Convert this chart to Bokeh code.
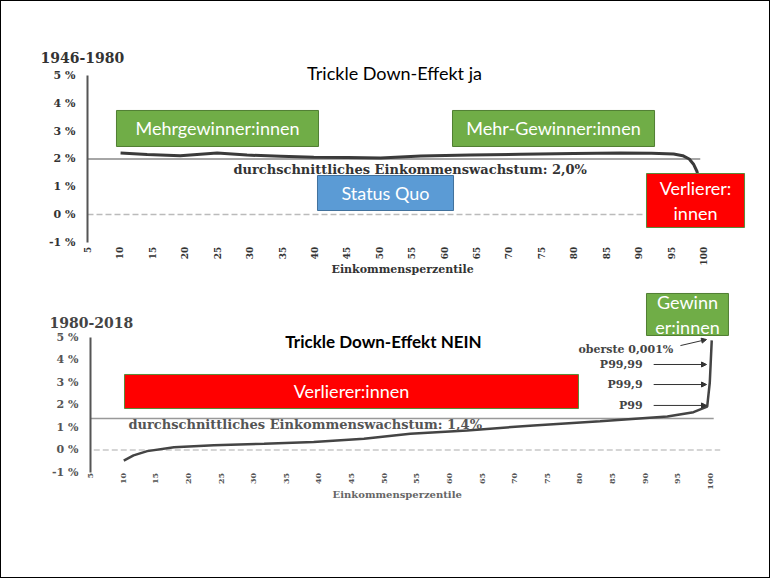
from math import pi
from bokeh.plotting import figure
from bokeh.models import Range1d, FixedTicker, Label, Arrow, NormalHead
from bokeh.layouts import column
from bokeh.embed import file_html
from bokeh.resources import INLINE

# ---------------- data ----------------
pct_ticks = [5, 10, 15, 20, 25, 30, 35, 40, 45, 50, 55, 60, 65, 70, 75, 80, 85, 90, 95, 100]
y_ticks = [-1, 0, 1, 2, 3, 4, 5]
y_tick_labels = ["-1 %", "0 %", "1 %", "2 %", "3 %", "4 %", "5 %"]

# 1946-1980 growth by income percentile
top_pct = [10.1, 14.2, 19.3, 25.0, 29.6, 34.8, 39.9, 45.1, 50.2, 56.4, 64.0, 71.8,
           80.0, 87.2, 92.0, 95.4, 96.8, 97.8, 98.5, 99.0, 99.3, 99.5]
top_growth = [2.22, 2.16, 2.12, 2.22, 2.14, 2.10, 2.06, 2.05, 2.04, 2.11, 2.14, 2.17,
              2.20, 2.22, 2.21, 2.18, 2.12, 2.00, 1.80, 1.55, 1.20, 0.90]
top_avg = 2.0

# 1980-2018 growth by income percentile
bot_pct = [10.1, 11.6, 13.7, 17.8, 23.9, 31.6, 39.2, 46.9, 54.0, 62.7, 72.9, 83.1,
           93.4, 97.4, 99.5, 99.9, 100.2]
bot_growth = [-0.47, -0.24, -0.05, 0.12, 0.21, 0.28, 0.36, 0.50, 0.72, 0.87, 1.09, 1.28,
              1.49, 1.68, 1.93, 3.00, 4.87]
bot_avg = 1.4

SERIF = "DejaVu Serif"
SANS = "Lato"


def make_fig(h, xr, yr, x_axis_at, label_color, xfont):
    p = figure(width=768, height=h, x_range=Range1d(*xr), y_range=Range1d(*yr),
               output_backend="svg", toolbar_location=None,
               min_border_left=0, min_border_right=0, min_border_top=0,
               min_border_bottom=0)
    p.grid.visible = False
    p.outline_line_color = None
    p.background_fill_color = "white"
    p.border_fill_color = "white"
    xa = p.xaxis[0]
    xa.fixed_location = x_axis_at
    xa.ticker = FixedTicker(ticks=pct_ticks)
    xa.major_label_orientation = pi / 2
    xa.axis_line_color = None
    xa.major_tick_line_color = None
    xa.minor_tick_line_color = None
    xa.major_tick_out = 0
    xa.major_tick_in = 0
    xa.minor_tick_out = 0
    xa.major_label_standoff = 2
    xa.major_label_text_font = SERIF
    xa.major_label_text_font_style = "bold"
    xa.major_label_text_font_size = xfont
    xa.major_label_text_color = label_color
    ya = p.yaxis[0]
    ya.fixed_location = 5
    ya.ticker = FixedTicker(ticks=y_ticks)
    ya.major_label_overrides = {t: s for t, s in zip(y_ticks, y_tick_labels)}
    ya.bounds = (-1, 5)
    ya.axis_line_color = "#555555"
    ya.axis_line_width = 2
    ya.major_tick_line_color = None
    ya.minor_tick_line_color = None
    ya.major_tick_out = 0
    ya.major_tick_in = 0
    ya.minor_tick_out = 0
    ya.major_label_standoff = 12
    ya.major_label_text_font = SERIF
    ya.major_label_text_font_style = "bold"
    ya.major_label_text_font_size = "11px"
    ya.major_label_text_color = label_color
    return p


def box(p, l, r, b, t, fill, line, lines, size="18px"):
    p.quad(left=[l], right=[r], bottom=[b], top=[t], fill_color=fill,
           line_color=line, line_width=1)
    cx = (l + r) / 2
    cy = (b + t) / 2
    p.add_layout(Label(x=cx, y=cy, text="\n".join(lines), text_align="center",
                       text_baseline="middle", text_color="white",
                       text_font=SANS, text_font_size=size, text_line_height=1.15))


# ---------------- top chart ----------------
p1 = make_fig(288, (-8.263, 110.18), (-2.694, 7.665), -1.08, "#333333", "9px")
p1.line([5, 91], [0, 0], line_color="#bbbbbb", line_width=1.5, line_dash="6 3")
p1.line([5, 99.5], [top_avg, top_avg], line_color="#888888", line_width=1.5)
p1.line(top_pct, top_growth, line_color="#3a3a3a", line_width=3)

p1.add_layout(Label(x=-2.25, y=5.65, text="1946-1980", text_font=SERIF,
                    text_font_style="bold", text_font_size="14px",
                    text_color="#333333", text_baseline="middle"))
p1.add_layout(Label(x=52.35, y=5.08, text="Trickle Down-Effekt ja", text_font=SANS,
                    text_font_size="18px", text_color="black",
                    text_align="center", text_baseline="middle"))
p1.add_layout(Label(x=27.5, y=1.64,
                    text="durchschnittliches Einkommenswachstum: 2,0%",
                    text_font=SERIF, text_font_style="bold", text_font_size="13px",
                    text_color="#333333", text_baseline="middle"))
p1.add_layout(Label(x=53.6, y=-1.98, text="Einkommensperzentile", text_font=SERIF,
                    text_font_style="bold", text_font_size="11px", text_color="#333333",
                    text_align="center", text_baseline="middle"))

box(p1, 9.47, 40.63, 2.45, 3.745, "#70AD47", "#507E32", ["Mehrgewinner:innen"])
box(p1, 61.29, 92.45, 2.45, 3.745, "#70AD47", "#507E32", ["Mehr-Gewinner:innen"])
box(p1, 40.47, 61.45, 0.147, 1.406, "#5B9BD5", "#41719C", ["Status Quo"])
box(p1, 91.21, 106.33, -0.464, 1.478, "#FF0000", "#5a8a3a", ["Verlierer:", "innen"])

# ---------------- bottom chart ----------------
p2 = make_fig(288, (-8.638, 109.05), (-5.667, 7.133), -0.93, "#555555", "8px")
p2.line([5.5, 101.5], [0, 0], line_color="#c8c8c8", line_width=1.5, line_dash="6 3")
p2.line([5, 100.5], [bot_avg, bot_avg], line_color="#999999", line_width=1.5)
p2.line(bot_pct, bot_growth, line_color="#444444", line_width=2.5)

p2.add_layout(Label(x=-1.28, y=5.67, text="1980-2018", text_font=SERIF,
                    text_font_style="bold", text_font_size="14px",
                    text_color="#444444", text_baseline="middle"))
p2.add_layout(Label(x=49.9, y=4.82, text="Trickle Down-Effekt NEIN", text_font=SANS,
                    text_font_style="bold", text_font_size="17px", text_color="black",
                    text_align="center", text_baseline="middle"))
p2.add_layout(Label(x=10.82, y=1.13,
                    text="durchschnittliches Einkommenswachstum: 1,4%",
                    text_font=SERIF, text_font_style="bold", text_font_size="13px",
                    text_color="#555555", text_baseline="middle"))
p2.add_layout(Label(x=52.0, y=-1.97, text="Einkommensperzentile", text_font=SERIF,
                    text_font_style="bold", text_font_size="10px", text_color="#666666",
                    text_align="center", text_baseline="middle"))

for txt, yy, x0, y0, y1 in [("oberste 0,001%", 4.47, 95.4, 4.64, 4.91),
                            ("P99,99", 3.80, 91.3, 3.80, 3.80),
                            ("P99,9", 2.91, 91.3, 2.91, 2.91),
                            ("P99", 1.98, 91.3, 1.98, 1.98)]:
    p2.add_layout(Label(x=89.6 if txt != "oberste 0,001%" else 94.3, y=yy, text=txt,
                        text_font=SERIF, text_font_style="bold", text_font_size="11px",
                        text_color="#444444", text_align="right", text_baseline="middle"))
    p2.add_layout(Arrow(end=NormalHead(size=5, fill_color="#333333", line_color="#333333"),
                        x_start=x0, y_start=y0, x_end=99.4, y_end=y1,
                        line_color="#333333", line_width=1))

box(p2, 10.21, 79.78, 1.844, 3.356, "#FF0000", "#5a8a3a", ["Verlierer:innen"])
box(p2, 90.2, 102.76, 5.089, 6.956, "#70AD47", "#507E32", ["Gewinn", "er:innen"])

layout = column(p1, p2, styles={"border": "1px solid black"})
open("out.html", "w").write(file_html(layout, INLINE))
